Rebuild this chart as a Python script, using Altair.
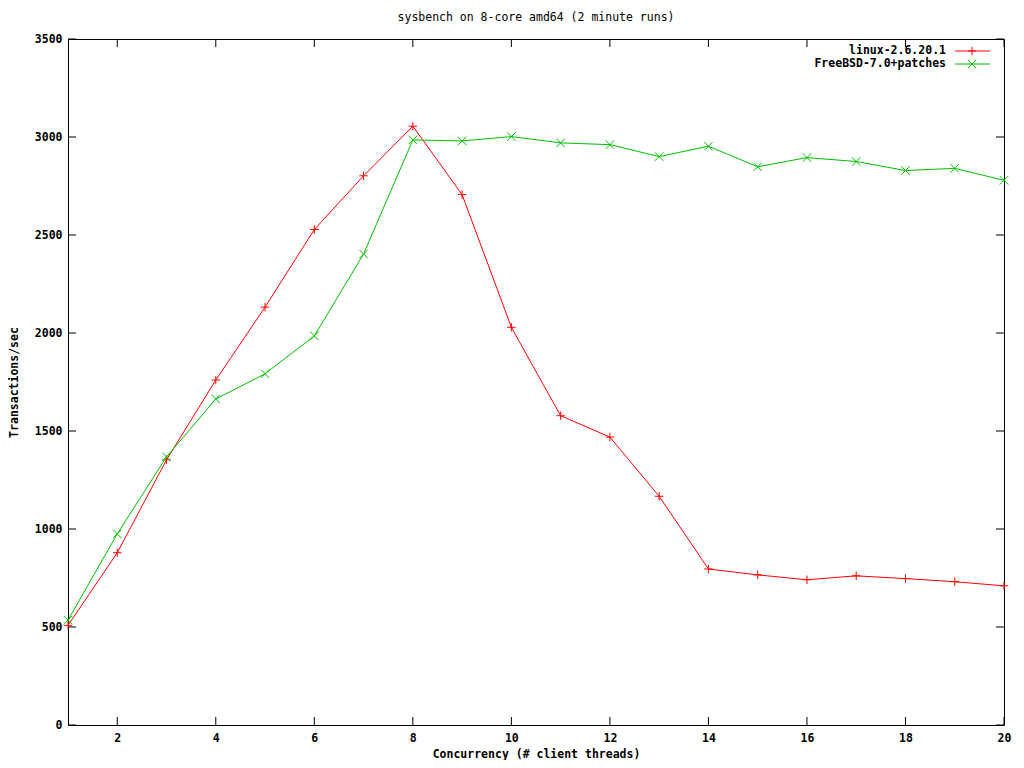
import altair as alt
import pandas as pd

threads = list(range(1, 21))
linux = [508, 879, 1353, 1760, 2132, 2528, 2802, 3055, 2706, 2029, 1578, 1469, 1167, 796, 766, 741, 761, 747, 731, 710]
freebsd = [535, 975, 1368, 1663, 1792, 1985, 2403, 2985, 2980, 3002, 2970, 2961, 2900, 2953, 2848, 2895, 2875, 2829, 2840, 2779]
series_names = ["linux-2.6.20.1", "FreeBSD-7.0+patches"]
series_colors = ["#ff0000", "#00c000"]
x_ticks = [2, 4, 6, 8, 10, 12, 14, 16, 18, 20]
y_ticks = [0, 500, 1000, 1500, 2000, 2500, 3000, 3500]

TITLE = "sysbench on 8-core amd64 (2 minute runs)"
XTITLE = "Concurrency (# client threads)"
YTITLE = "Transactions/sec"

FONT = "DejaVu Sans Mono"
FS = 11.5
W, H = 936, 686
TICK = 8

PLUS = "M-1,0L1,0M0,-1L0,1"
CROSS = "M-1,-1L1,1M-1,1L1,-1"
shapes = [PLUS, CROSS]

xs = alt.Scale(domain=[1, 20], nice=False, zero=False)
ys = alt.Scale(domain=[0, 3500], nice=False, zero=False)

x_axis = alt.Axis(values=x_ticks, tickSize=0, domain=False, grid=False, format="d",
                  labelFont=FONT, labelFontSize=FS, labelFontWeight="bold", labelColor="black",
                  labelPadding=7, title=XTITLE, titleFont=FONT, titleFontSize=FS,
                  titleFontWeight="bold", titleColor="black", titleY=29, titleBaseline="middle",
                  labelFlush=False, labelOverlap=False)
y_axis = alt.Axis(values=y_ticks, tickSize=0, domain=False, grid=False, format="d",
                  labelFont=FONT, labelFontSize=FS, labelFontWeight="bold", labelColor="black",
                  labelPadding=6, title=YTITLE, titleFont=FONT, titleFontSize=FS,
                  titleFontWeight="bold", titleColor="black", titleX=-54, titleY=H / 2,
                  titleBaseline="middle", labelFlush=False, labelOverlap=False)

layers = []

# axis frame ticks (inward, mirrored)
xt = pd.DataFrame({"t": x_ticks})
yt = pd.DataFrame({"v": y_ticks})
tick_style = dict(color="black", strokeWidth=1)
layers.append(alt.Chart(xt).mark_rule(**tick_style).encode(
    x=alt.X("t:Q", scale=xs, axis=x_axis), y=alt.value(H), y2=alt.value(H - TICK)))
layers.append(alt.Chart(xt).mark_rule(**tick_style).encode(
    x=alt.X("t:Q", scale=xs, axis=x_axis), y=alt.value(0), y2=alt.value(TICK)))
layers.append(alt.Chart(yt).mark_rule(**tick_style).encode(
    y=alt.Y("v:Q", scale=ys, axis=y_axis), x=alt.value(0), x2=alt.value(TICK)))
layers.append(alt.Chart(yt).mark_rule(**tick_style).encode(
    y=alt.Y("v:Q", scale=ys, axis=y_axis), x=alt.value(W), x2=alt.value(W - TICK)))

for name, vals, col, shp in zip(series_names, [linux, freebsd], series_colors, shapes):
    df = pd.DataFrame({"threads": threads, "tps": vals})
    base = alt.Chart(df).encode(x=alt.X("threads:Q", scale=xs, axis=x_axis),
                                y=alt.Y("tps:Q", scale=ys, axis=y_axis))
    layers.append(base.mark_line(color=col, strokeWidth=1))
    layers.append(base.mark_point(shape=shp, color=col, filled=False, strokeWidth=1,
                                  size=72, opacity=1))

# manual gnuplot-style key (text then sample)
for i, (name, col, shp) in enumerate(zip(series_names, series_colors, shapes)):
    ld = pd.DataFrame({"name": [name]})
    yy = 12 + i * 13
    layers.append(alt.Chart(ld).mark_text(align="right", baseline="middle", font=FONT,
                                          fontSize=FS, fontWeight="bold", color="black").encode(
        text="name:N", x=alt.value(878), y=alt.value(yy)))
    layers.append(alt.Chart(ld).mark_rule(color=col, strokeWidth=1).encode(
        x=alt.value(887), x2=alt.value(922), y=alt.value(yy)))
    layers.append(alt.Chart(ld).mark_point(shape=shp, color=col, filled=False, strokeWidth=1,
                                           size=72, opacity=1).encode(
        x=alt.value(904), y=alt.value(yy)))

# chart title as a text mark above the frame
td = pd.DataFrame({"title": [TITLE]})
layers.append(alt.Chart(td).mark_text(align="center", baseline="middle", font=FONT,
                                      fontSize=FS, fontWeight="normal", color="black").encode(
    text="title:N", x=alt.value(W / 2), y=alt.value(-21)))

chart = alt.layer(*layers).properties(
    width=W, height=H,
    background="white",
    autosize=alt.AutoSizeParams(type="none"),
    padding={"left": 60, "top": 31, "right": 12, "bottom": 35},
).configure_view(stroke="black", strokeWidth=1)

chart.save("out.html", embed_options={"renderer": "svg", "actions": False})
